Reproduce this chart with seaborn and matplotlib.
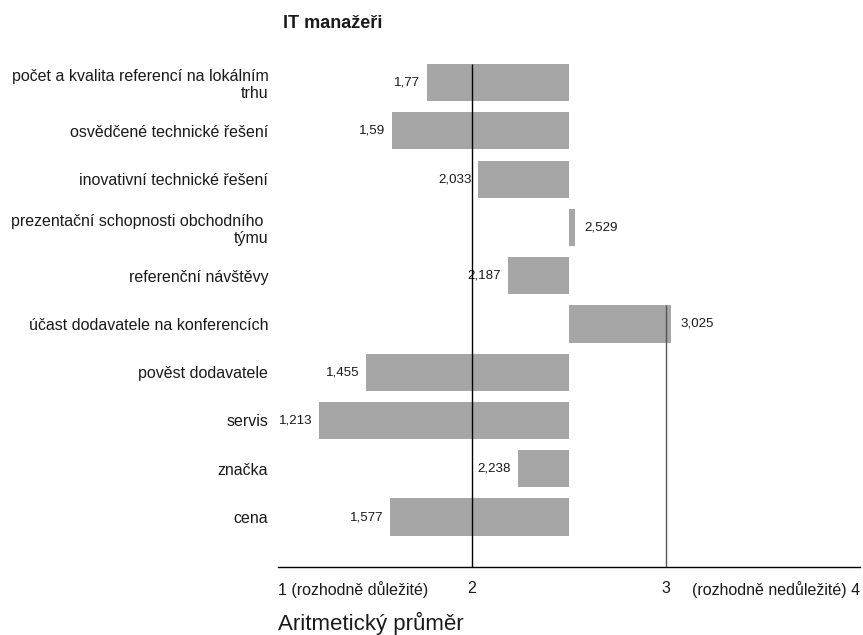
import matplotlib
matplotlib.use("Agg")
import matplotlib.pyplot as plt
import seaborn as sns
import pandas as pd

categories = [
    "počet a kvalita referencí na lokálním\ntrhu",
    "osvědčené technické řešení",
    "inovativní technické řešení",
    "prezentační schopnosti obchodního \ntýmu",
    "referenční návštěvy",
    "účast dodavatele na konferencích",
    "pověst dodavatele",
    "servis",
    "značka",
    "cena",
]
values = [1.77, 1.59, 2.033, 2.529, 2.187, 3.025, 1.455, 1.213, 2.238, 1.577]
value_labels = ["1,77", "1,59", "2,033", "2,529", "2,187", "3,025", "1,455", "1,213", "2,238", "1,577"]
tick_values = [1, 2, 3, 4]
tick_labels = ["1 (rozhodně důležité)", "2", "3", "(rozhodně nedůležité) 4"]
baseline = 2.5
title = "IT manažeři"
xlabel = "Aritmetický průměr"

sns.set_style("white")
plt.rcParams["font.family"] = ["Liberation Sans", "DejaVu Sans"]
plt.rcParams["text.color"] = "#1a1a1a"
plt.rcParams["xtick.color"] = "#1a1a1a"
plt.rcParams["ytick.color"] = "#1a1a1a"

df = pd.DataFrame({"cat": categories, "diff": [v - baseline for v in values]})

fig = plt.figure(figsize=(8.63, 6.35), dpi=100)
ax = fig.add_axes([0.3221, 0.1071, 0.9965 - 0.3221, 0.8992 - 0.1071])

bw = 0.77
sns.barplot(data=df, x="diff", y="cat", orient="y", color="#a6a6a6",
            saturation=1, width=bw, left=baseline, ax=ax, linewidth=0)

ymax = 9 + 1.035
ax.set_ylim(ymax, -bw / 2)
ax.set_xlim(1, 4)

# reference lines
ax.vlines(2, -bw / 2, ymax, color="black", linewidth=1.0, zorder=5)
ax.vlines(3, 5 - bw / 2, ymax, color="#555555", linewidth=1.0, zorder=5)

for i, (v, lab) in enumerate(zip(values, value_labels)):
    if v < baseline:
        ax.annotate(lab, (v, i), xytext=(-5, 0), textcoords="offset points",
                    ha="right", va="center", fontsize=9.6, color="#1a1a1a")
    else:
        ax.annotate(lab, (v, i), xytext=(7, 0), textcoords="offset points",
                    ha="left", va="center", fontsize=9.6, color="#1a1a1a")

for s in ["top", "right", "left"]:
    ax.spines[s].set_visible(False)
ax.spines["bottom"].set_color("black")
ax.spines["bottom"].set_linewidth(1.0)

ax.set_xticks(tick_values)
ax.set_xticklabels(tick_labels, fontsize=11.5)
ax.tick_params(axis="x", direction="out", length=7, width=1, color="black", pad=3)
lbls = ax.get_xticklabels()
lbls[0].set_ha("left")
lbls[-1].set_ha("right")

ax.tick_params(axis="y", length=0, pad=7, labelsize=11.5)
ax.set_ylabel("")
ax.set_xlabel("")

fig.text(278 / 863, 1 - 623 / 635, xlabel, fontsize=16, ha="left", va="center")
fig.text(283 / 863, 1 - 23 / 635, title, fontsize=13, fontweight="bold", ha="left", va="center")

fig.savefig("out.png", dpi=100)
